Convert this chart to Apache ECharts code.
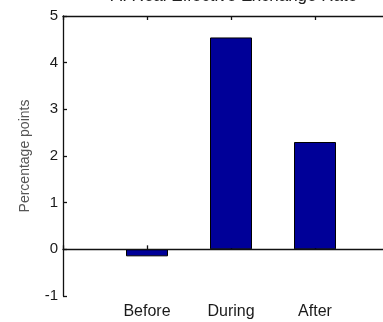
<!DOCTYPE html>
<html>
<head>
<meta charset="utf-8">
<script src="https://cdn.jsdelivr.net/npm/echarts@6/dist/echarts.min.js"></script>
<style>
  html, body { margin: 0; padding: 0; background: #fff; }
  #chart { width: 383px; height: 322px; }
</style>
</head>
<body>
<div id="chart"></div>
<script>
// Change in the real effective exchange rate around the episode
const categories = ['', 'Before', 'During', 'After', ''];
const values = [null, -0.15, 4.54, 2.3, null];
const yTicks = [-1, 0, 1, 2, 3, 4, 5];
const titleText = 'A. Real Effective Exchange Rate';
const yLabel = 'Percentage points';

const chart = echarts.init(document.getElementById('chart'), null, { renderer: 'canvas' });

const axisLine = { show: true, lineStyle: { color: '#111', width: 1.3 } };
const insideTick = { show: true, inside: true, length: 4, lineStyle: { color: '#111', width: 1.3 } };

chart.setOption({
  animation: false,
  backgroundColor: '#fff',
  title: {
    text: titleText,
    left: 229,
    textAlign: 'center',
    top: -17,
    textStyle: { fontFamily: 'Liberation Sans', fontSize: 17, fontWeight: 'normal', color: '#222' }
  },
  grid: { left: 63, top: 16, width: 336, height: 280, containLabel: false, outerBoundsMode: 'none' },
  xAxis: [
    {
      type: 'category',
      data: categories,
      boundaryGap: false,
      position: 'bottom',
      axisLine: axisLine,
      axisTick: insideTick,
      axisLabel: { fontFamily: 'Liberation Sans', fontSize: 16, color: '#1a1a1a', margin: 8 },
      splitLine: { show: false }
    },
    {
      type: 'category',
      data: categories,
      boundaryGap: false,
      position: 'top',
      axisLine: axisLine,
      axisTick: insideTick,
      axisLabel: { show: false },
      splitLine: { show: false }
    }
  ],
  yAxis: {
    type: 'value',
    min: yTicks[0],
    max: yTicks[yTicks.length - 1],
    interval: 1,
    name: yLabel,
    nameLocation: 'middle',
    nameGap: 31,
    nameTextStyle: { fontFamily: 'Liberation Sans', fontSize: 14, color: '#555' },
    axisLine: axisLine,
    axisTick: insideTick,
    axisLabel: { fontFamily: 'Liberation Sans', fontSize: 15, color: '#1a1a1a', margin: 5 },
    splitLine: { show: false }
  },
  series: [{
    type: 'bar',
    data: values,
    barWidth: 42,
    itemStyle: { color: '#000098', borderColor: '#000', borderWidth: 1 },
    markLine: {
      silent: true,
      symbol: ['none', 'none'],
      label: { show: false },
      lineStyle: { color: '#111', type: 'solid', width: 1.2 },
      data: [{ yAxis: 0 }]
    }
  }]
});
</script>
</body>
</html>
